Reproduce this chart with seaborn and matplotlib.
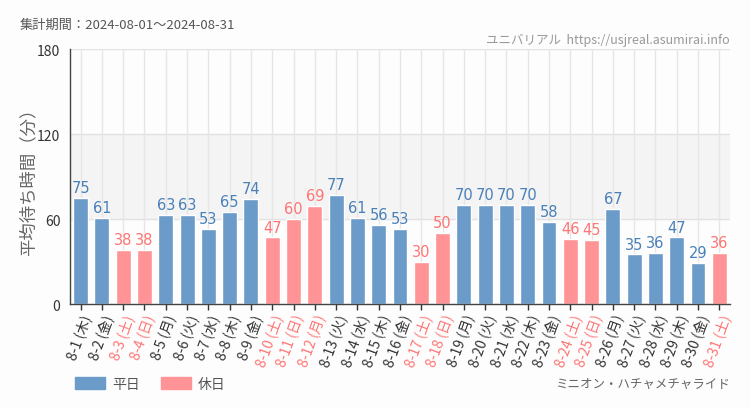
import pandas as pd
import seaborn as sns
import matplotlib.pyplot as plt
from matplotlib.patches import Patch

days = ['8-1', '8-2', '8-3', '8-4', '8-5', '8-6', '8-7', '8-8', '8-9', '8-10',
        '8-11', '8-12', '8-13', '8-14', '8-15', '8-16', '8-17', '8-18', '8-19', '8-20',
        '8-21', '8-22', '8-23', '8-24', '8-25', '8-26', '8-27', '8-28', '8-29', '8-30', '8-31']
weekdays = ['木', '金', '土', '日', '月', '火', '水', '木', '金', '土',
            '日', '月', '火', '水', '木', '金', '土', '日', '月', '火',
            '水', '木', '金', '土', '日', '月', '火', '水', '木', '金', '土']
waits = [75, 61, 38, 38, 63, 63, 53, 65, 74, 47,
         60, 69, 77, 61, 56, 53, 30, 50, 70, 70,
         70, 70, 58, 46, 45, 67, 35, 36, 47, 29, 36]
holidays = ['8-3', '8-4', '8-10', '8-11', '8-12', '8-17', '8-18', '8-24', '8-25', '8-31']

labels = [f'{d} ({w})' for d, w in zip(days, weekdays)]
df = pd.DataFrame({'label': labels, 'wait': waits,
                   'kind': ['休日' if d in holidays else '平日' for d in days]})

blue, pink = '#6b9bc8', '#ff9396'
blue_txt, pink_txt = '#4a80b8', '#ff7575'

sns.set_style('white')
plt.rcParams['font.family'] = ['Noto Sans CJK JP', 'DejaVu Sans']

fig = plt.figure(figsize=(7.5, 4.1), dpi=100, facecolor='#fcfdfc')
ax = fig.add_axes([0.0933, 0.256, 0.88, 0.622])
ax.set_facecolor('#fcfdfc')

# shaded band and grid
ax.axhspan(60, 120, color='#f3f4f3', zorder=0)
for y in (60, 120, 180):
    ax.axhline(y, color='#e2e2e2', lw=1, zorder=0.5)
for i in range(len(days)):
    ax.axvline(i, color='#e6e6e6', lw=1, zorder=0.5)

sns.barplot(data=df, x='label', y='wait', hue='kind', dodge=False,
            palette={'平日': blue, '休日': pink}, width=0.7, legend=False,
            saturation=1, zorder=2, ax=ax)

for i, (v, d) in enumerate(zip(waits, days)):
    c = pink_txt if d in holidays else blue_txt
    ax.text(i, v + 2, str(v), ha='center', va='bottom', fontsize=10.5, color=c,
            family=['Liberation Sans Narrow', 'DejaVu Sans'], zorder=3)

ax.set_xlim(-0.5, len(days) - 0.5)
ax.set_ylim(0, 180)
ax.set_yticks([0, 60, 120, 180])
ax.tick_params(axis='y', length=5, width=1, color='#333333', labelsize=10, labelcolor='#333333', pad=2)
ax.tick_params(axis='x', length=4, width=1, color='#333333', labelsize=10, pad=2, bottom=True)
ax.set_xticks(range(len(days)))
ax.set_xticklabels(labels, rotation=70, ha='right', rotation_mode='anchor')
for t, d in zip(ax.get_xticklabels(), days):
    t.set_color(pink_txt if d in holidays else '#333333')
ax.set_xlabel('')
ax.set_ylabel('平均待ち時間（分）', fontsize=12.5, color='#666666', labelpad=0)

for s in ('top', 'right'):
    ax.spines[s].set_visible(False)
for s in ('left', 'bottom'):
    ax.spines[s].set_color('#444444')
    ax.spines[s].set_linewidth(1)

fig.text(20 / 750, 1 - 25 / 410, '集計期間：2024-08-01～2024-08-31', fontsize=9.5,
         color='#555555', va='center', ha='left')
fig.text(730 / 750, 1 - 40 / 410, 'ユニバリアル  https://usjreal.asumirai.info', fontsize=9,
         color='#999999', va='center', ha='right')
fig.text(730 / 750, 1 - 384 / 410, 'ミニオン・ハチャメチャライド', fontsize=9,
         color='#666666', va='center', ha='right')

handles = [Patch(color=blue, label='平日'), Patch(color=pink, label='休日')]
fig.legend(handles=handles, loc='center left', bbox_to_anchor=(62 / 750, 1 - 385 / 410),
           ncol=2, frameon=False, fontsize=10, handlelength=2.2, handleheight=1.0,
           columnspacing=1.5, handletextpad=0.5, labelcolor='#555555')

fig.savefig('out.png', dpi=100, facecolor=fig.get_facecolor())
